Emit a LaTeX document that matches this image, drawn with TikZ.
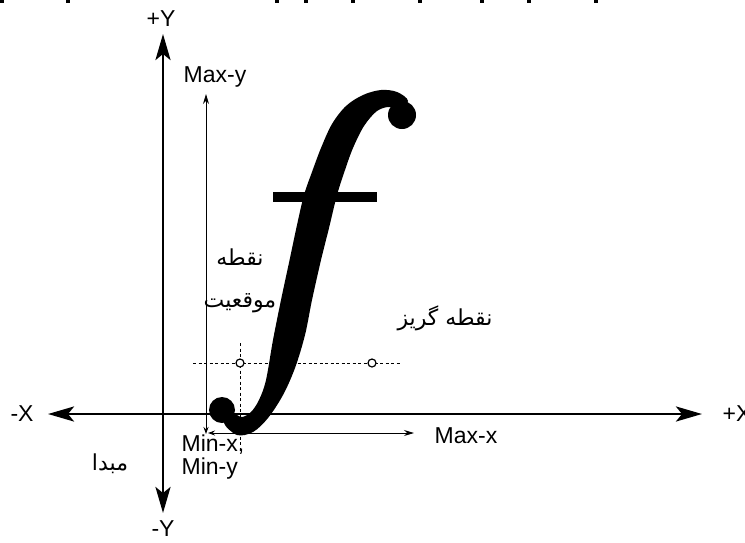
\documentclass[tikz,border=0pt]{standalone}
\usepackage{fontspec}
\setmainfont{Liberation Sans}
\newfontfamily\arabicfont[Script=Arabic]{DejaVu Sans}
\TeXXeTstate=1
\usetikzlibrary{arrows.meta}
\begin{document}
\begin{tikzpicture}[x=1pt,y=-1pt,
  axis/.style={line width=2.8pt,{Stealth[length=26pt,width=15pt,inset=6pt]}-{Stealth[length=26pt,width=15pt,inset=6pt]}},
  thinarr/.style={line width=0.9pt,{Stealth[length=7pt,width=5pt]}-{Stealth[length=10pt,width=6pt]}},
  dashline/.style={line width=0.9pt,dash pattern=on 3pt off 2.5pt},
  lab/.style={font=\fontsize{23}{23}\selectfont,inner sep=0pt},
  fa/.style={font=\arabicfont\fontsize{22}{24}\selectfont,inner sep=0pt},
  circ/.style={circle,draw,line width=1.2pt,fill=white,minimum size=8pt,inner sep=0pt},
  glyph/.style={fill=black}]
\useasboundingbox (0,0) rectangle (745,542);
% scan marks along the top edge
\foreach \t in {0,66,275,304,351,418,480,527,594}
  \fill (\t,0) rectangle +(4,3);
% axes
\coordinate (xl) at (48,414);
\coordinate (xr) at (702,414);
\coordinate (yt) at (163,34);
\coordinate (yb) at (163,513);
\draw[axis] (xl) -- (xr);
\draw[axis] (yb) -- (yt);
\node[lab] (mx) at (22,414) {-X};
\node[lab] (px) at (737,414) {+X};
\node[lab] (py) at (161,19) {+Y};
\node[lab] (my) at (163,529) {-Y};
% extent arrows
\coordinate (cv) at (206,434);
\coordinate (cyt) at (206,94);
\coordinate (ch) at (208,433);
\coordinate (cxr) at (414,433);
\draw[thinarr] (cv) -- (cyt);
\draw[thinarr] (ch) -- (cxr);
\node[lab] (maxy) at (215,77) {Max-y};
\node[lab] (maxx) at (466,436) {Max-x};
\node[lab,align=left] (minxy) at (213,457) {Min-x,\\[0pt]Min-y};
% dashed guides
\coordinate (h1) at (193,363);
\coordinate (h2) at (400,363);
\coordinate (v1) at (240,343);
\coordinate (v2) at (240,448);
\draw[dashline] (h1) -- (h2);
\draw[dashline] (v1) -- (v2);
\node[circ] (p1) at (240,363) {};
\node[circ] (p2) at (372,363) {};
% the f glyph
\fill[glyph] plot[smooth cycle,tension=0.55] coordinates {
 (224,423) (237,435) (253,432) (268,418) (283,395) (295,368) (305,335)
 (312,300) (321,260) (329,228) (337,195) (345,170) (353,148) (364,126)
 (377,111) (390,107) (398,113)
 (408,101) (397,92) (381,90) (363,95) (346,106) (332,124) (321,148)
 (312,172) (304,195) (297,225) (290,258) (281,300) (273,340) (266,380)
 (259,400) (251,412) (242,417) (233,414)};
\fill[glyph] (402,115) circle (14);
\fill[glyph] (222,410) circle (13);
\fill[glyph] (273,192) rectangle (377,202);
% Persian labels
\node[fa] (n1) at (240,257) {\beginR نقطه\endR};
\node[fa] (n2) at (240,303) {\beginR موقعیت\endR};
\node[fa] (n3) at (445,318) {\beginR نقطه گریز\endR};
\node[fa] (n4) at (110,464) {\beginR مبدا\endR};
\end{tikzpicture}
\end{document}
